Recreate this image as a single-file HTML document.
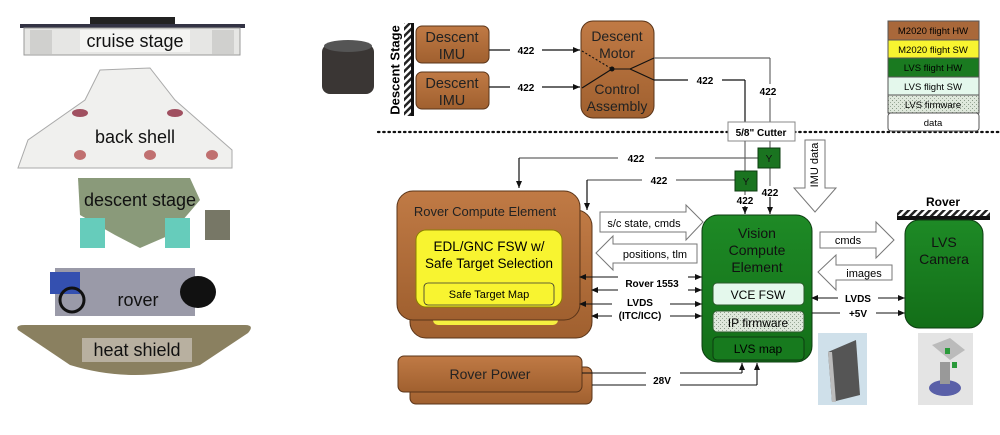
<!DOCTYPE html>
<html><head><meta charset="utf-8"><style>
html,body{margin:0;padding:0;background:#fff;}
svg{display:block;font-family:"Liberation Sans",sans-serif;}
</style></head><body>
<svg width="1000" height="435" viewBox="0 0 1000 435" xmlns="http://www.w3.org/2000/svg">
<defs>
<linearGradient id="br" x1="0" y1="0" x2="0" y2="1"><stop offset="0" stop-color="#c07a45"/><stop offset="1" stop-color="#a0602f"/></linearGradient>
<linearGradient id="gr" x1="0" y1="0" x2="0" y2="1"><stop offset="0" stop-color="#1e8a26"/><stop offset="1" stop-color="#136e18"/></linearGradient>
<pattern id="hatch" width="5" height="5" patternUnits="userSpaceOnUse" patternTransform="rotate(45)"><rect width="5" height="5" fill="#fff"/><rect width="2.5" height="5" fill="#222"/></pattern>
<pattern id="speck" width="4" height="4" patternUnits="userSpaceOnUse"><rect width="4" height="4" fill="#dfe8dc"/><rect x="0" y="0" width="1" height="1" fill="#8a9a88"/><rect x="2" y="2" width="1" height="1" fill="#9aaa98"/></pattern>
<marker id="ar" markerWidth="8" markerHeight="8" refX="7" refY="4" orient="auto" markerUnits="userSpaceOnUse"><path d="M0,1 L7,4 L0,7z" fill="#111"/></marker>
<marker id="al" markerWidth="8" markerHeight="8" refX="1" refY="4" orient="auto" markerUnits="userSpaceOnUse"><path d="M7,1 L0,4 L7,7z" fill="#111"/></marker>
</defs>

<!-- left spacecraft stack -->
<g>
<rect x="20" y="24" width="225" height="4" fill="#334"/>
<rect x="90" y="17" width="85" height="7" fill="#222"/>
<rect x="24" y="28" width="216" height="27" fill="#e6e6e4" stroke="#999"/>
<rect x="30" y="30" width="22" height="24" fill="#d0d0ce"/><rect x="212" y="30" width="22" height="24" fill="#d0d0ce"/>
<rect x="80" y="30" width="110" height="22" fill="#f4f4f2"/>
<text x="135" y="47" font-size="18" text-anchor="middle" fill="#111">cruise stage</text>
<path d="M100,70 L150,68 L175,100 L232,150 L232,168 L18,168 L28,140 L85,100 Z" fill="#f0f0ee" stroke="#aaa"/>
<ellipse cx="80" cy="113" rx="8" ry="4" fill="#a05060"/><ellipse cx="175" cy="113" rx="8" ry="4" fill="#a05060"/>
<ellipse cx="80" cy="155" rx="6" ry="5" fill="#c07070"/><ellipse cx="150" cy="155" rx="6" ry="5" fill="#c07070"/><ellipse cx="212" cy="155" rx="6" ry="5" fill="#c07070"/>
<text x="135" y="143" font-size="18" text-anchor="middle" fill="#111">back shell</text>
<path d="M78,178 L190,178 L200,200 L170,235 L140,248 L115,235 L80,215 Z" fill="#8a9a7a"/>
<rect x="80" y="218" width="25" height="30" fill="#6cb"/><rect x="165" y="218" width="25" height="30" fill="#6cb"/>
<rect x="205" y="210" width="25" height="30" fill="#776"/>
<text x="140" y="206" font-size="18" text-anchor="middle" fill="#111">descent stage</text>
<rect x="55" y="268" width="140" height="48" fill="#9a9aa8"/>
<rect x="50" y="272" width="30" height="22" fill="#3450b0"/>
<ellipse cx="198" cy="292" rx="18" ry="16" fill="#111"/>
<circle cx="72" cy="300" r="12" fill="none" stroke="#111" stroke-width="3"/>
<text x="138" y="306" font-size="18" text-anchor="middle" fill="#111">rover</text>
<path d="M18,330 Q15,325 25,325 L245,325 Q255,325 248,333 L200,365 Q135,385 70,365 Z" fill="#8a8060"/>
<rect x="82" y="338" width="110" height="24" fill="#b8b0a0"/>
<text x="137" y="356" font-size="18" text-anchor="middle" fill="#111">heat shield</text>
</g>

<!-- descent IMU photo -->
<rect x="322" y="44" width="52" height="50" rx="8" fill="#3a3634"/>
<ellipse cx="348" cy="46" rx="24" ry="6" fill="#555"/>

<!-- descent stage hatch -->
<rect x="404" y="23" width="7" height="93" fill="url(#hatch)"/>
<rect x="411" y="23" width="3" height="93" fill="#111"/>
<text transform="translate(396,70) rotate(-90)" font-size="13" font-weight="bold" text-anchor="middle" dominant-baseline="middle">Descent Stage</text>

<rect x="416" y="26" width="73" height="37" rx="6" fill="url(#br)" stroke="#5a3418"/>
<text x="452" y="42" font-size="14.5" text-anchor="middle" fill="#222">Descent</text><text x="452" y="59" font-size="14.5" text-anchor="middle" fill="#222">IMU</text>
<rect x="416" y="72" width="73" height="37" rx="6" fill="url(#br)" stroke="#5a3418"/>
<text x="452" y="88" font-size="14.5" text-anchor="middle" fill="#222">Descent</text><text x="452" y="105" font-size="14.5" text-anchor="middle" fill="#222">IMU</text>

<g stroke="#111" stroke-width="1.2" fill="none">
<line x1="489" y1="50" x2="510" y2="50"/><line x1="542" y1="50" x2="580" y2="50" marker-end="url(#ar)"/>
<line x1="489" y1="87" x2="510" y2="87"/><line x1="542" y1="87" x2="580" y2="87" marker-end="url(#ar)"/>
</g>
<text x="526" y="54" font-size="10" font-weight="bold" text-anchor="middle">422</text>
<text x="526" y="91" font-size="10" font-weight="bold" text-anchor="middle">422</text>

<rect x="581" y="21" width="73" height="97" rx="12" fill="url(#br)" stroke="#5a3418"/>
<text x="617" y="41" font-size="14" text-anchor="middle" fill="#222">Descent</text>
<text x="617" y="58" font-size="14" text-anchor="middle" fill="#222">Motor</text>
<text x="617" y="94" font-size="14" text-anchor="middle" fill="#222">Control</text>
<text x="617" y="111" font-size="14" text-anchor="middle" fill="#222">Assembly</text>
<g stroke="#111" stroke-width="1.1" fill="none">
<line x1="582" y1="51" x2="612" y2="69" stroke-dasharray="2,2"/>
<line x1="582" y1="88" x2="612" y2="69"/>
<line x1="612" y1="69" x2="630" y2="69"/>
<line x1="630" y1="69" x2="654" y2="58"/><line x1="630" y1="69" x2="654" y2="80"/>
</g>
<circle cx="612" cy="69" r="2.5" fill="#111"/>
<g stroke="#666" stroke-width="1.2" fill="none">
<line x1="654" y1="58" x2="770" y2="58"/><line x1="770" y1="58" x2="770" y2="84"/><line x1="770" y1="98" x2="770" y2="122"/>
</g>
<g stroke="#111" stroke-width="1.2" fill="none">
<line x1="654" y1="80" x2="688" y2="80"/><line x1="722" y1="80" x2="745" y2="80"/><line x1="745" y1="80" x2="745" y2="122"/>
</g>
<text x="705" y="84" font-size="10" font-weight="bold" text-anchor="middle">422</text>
<text x="768" y="95" font-size="10" font-weight="bold" text-anchor="middle">422</text>

<line x1="378" y1="132" x2="1000" y2="132" stroke="#111" stroke-width="2.2" stroke-dasharray="1.5,3.7" stroke-linecap="round"/>

<rect x="728" y="122" width="67" height="19" fill="#fff" stroke="#888"/>
<text x="761" y="136" font-size="10" font-weight="bold" text-anchor="middle">5/8" Cutter</text>

<path d="M805,140 L825,140 L825,188 L836,188 L815,212 L794,188 L805,188 Z" fill="#fff" stroke="#777"/>
<text transform="translate(815,165) rotate(-90)" font-size="11" text-anchor="middle" dominant-baseline="middle">IMU data</text>

<g stroke="#666" stroke-width="1.2" fill="none">
<line x1="770" y1="141" x2="770" y2="148"/><line x1="745" y1="141" x2="745" y2="171"/>
<line x1="758" y1="158" x2="655" y2="158"/><line x1="618" y1="158" x2="519" y2="158"/><line x1="519" y1="158" x2="519" y2="188" stroke="#111" marker-end="url(#ar)"/>
<line x1="735" y1="180" x2="676" y2="180"/><line x1="642" y1="180" x2="587" y2="180"/><line x1="587" y1="180" x2="587" y2="210" stroke="#111" marker-end="url(#ar)"/>
<line x1="770" y1="167" x2="770" y2="186"/><line x1="770" y1="197" x2="770" y2="214" stroke="#111" marker-end="url(#ar)"/>
<line x1="745" y1="190" x2="745" y2="195"/><line x1="745" y1="206" x2="745" y2="214" stroke="#111" marker-end="url(#ar)"/>
</g>
<text x="636" y="162" font-size="10" font-weight="bold" text-anchor="middle">422</text>
<text x="659" y="184" font-size="10" font-weight="bold" text-anchor="middle">422</text>
<text x="770" y="196" font-size="10" font-weight="bold" text-anchor="middle">422</text>
<text x="745" y="204" font-size="10" font-weight="bold" text-anchor="middle">422</text>
<rect x="758" y="148" width="22" height="20" fill="#1a7420" stroke="#0c3c10"/><text x="769" y="162" font-size="10" text-anchor="middle" fill="#111">Y</text>
<rect x="735" y="171" width="22" height="20" fill="#1a7420" stroke="#0c3c10"/><text x="746" y="185" font-size="10" text-anchor="middle" fill="#111">Y</text>

<rect x="410" y="210" width="182" height="128" rx="16" fill="url(#br)" stroke="#5a3418"/>
<rect x="433" y="300" width="125" height="25" rx="5" fill="#f5f040"/>
<rect x="397" y="191" width="183" height="129" rx="16" fill="url(#br)" stroke="#5a3418"/>
<text x="485" y="216" font-size="13" text-anchor="middle" fill="#222">Rover Compute Element</text>
<rect x="416" y="230" width="146" height="77" rx="10" fill="#f8f430" stroke="#8a8000"/>
<text x="489" y="251" font-size="13.5" text-anchor="middle">EDL/GNC FSW w/</text>
<text x="489" y="268" font-size="13.5" text-anchor="middle">Safe Target Selection</text>
<rect x="424" y="283" width="130" height="22" rx="4" fill="#f8f430" stroke="#333" stroke-width="0.8"/>
<text x="489" y="298" font-size="11" text-anchor="middle">Safe Target Map</text>

<path d="M600,212 L686,212 L686,205 L703,222 L686,240 L686,232 L600,232 Z" fill="#fff" stroke="#777"/>
<text x="644" y="227" font-size="11" text-anchor="middle">s/c state, cmds</text>
<path d="M697,244 L613,244 L613,236 L596,253 L613,270 L613,263 L697,263 Z" fill="#fff" stroke="#777"/>
<text x="655" y="258" font-size="11" text-anchor="middle">positions, tlm</text>

<g stroke="#111" stroke-width="1.1" fill="none">
<line x1="580" y1="277" x2="618" y2="277" marker-start="url(#al)"/><line x1="688" y1="277" x2="702" y2="277" marker-end="url(#ar)"/>
<line x1="592" y1="290" x2="618" y2="290" marker-start="url(#al)"/><line x1="688" y1="290" x2="702" y2="290" marker-end="url(#ar)"/>
<line x1="580" y1="304" x2="612" y2="304" marker-start="url(#al)"/><line x1="670" y1="304" x2="702" y2="304" marker-end="url(#ar)"/>
<line x1="592" y1="316" x2="612" y2="316" marker-start="url(#al)"/><line x1="670" y1="316" x2="702" y2="316" marker-end="url(#ar)"/>
</g>
<text x="652" y="287" font-size="10" font-weight="bold" text-anchor="middle">Rover 1553</text>
<text x="640" y="306" font-size="10" font-weight="bold" text-anchor="middle">LVDS</text>
<text x="640" y="319" font-size="10" font-weight="bold" text-anchor="middle">(ITC/ICC)</text>

<rect x="702" y="215" width="110" height="147" rx="16" fill="url(#gr)" stroke="#0c3c10"/>
<text x="757" y="238" font-size="14" text-anchor="middle" fill="#111">Vision</text>
<text x="757" y="255" font-size="14" text-anchor="middle" fill="#111">Compute</text>
<text x="757" y="272" font-size="14" text-anchor="middle" fill="#111">Element</text>
<rect x="713" y="283" width="91" height="22" rx="4" fill="#e4f8ec" stroke="#2a5a2a"/>
<text x="758" y="299" font-size="12" text-anchor="middle">VCE FSW</text>
<rect x="713" y="311" width="91" height="21" rx="4" fill="url(#speck)" stroke="#2a5a2a"/>
<text x="758" y="327" font-size="12" text-anchor="middle">IP firmware</text>
<rect x="713" y="337" width="91" height="23" rx="4" fill="#177a1e" stroke="#0c3c10"/>
<text x="758" y="353" font-size="12" text-anchor="middle">LVS map</text>

<rect x="410" y="367" width="182" height="37" rx="6" fill="url(#br)" stroke="#5a3418"/>
<rect x="398" y="356" width="184" height="36" rx="6" fill="url(#br)" stroke="#5a3418"/>
<text x="490" y="379" font-size="14" text-anchor="middle" fill="#222">Rover Power</text>
<g stroke="#111" stroke-width="1.1" fill="none">
<line x1="582" y1="373" x2="646" y2="373"/><line x1="680" y1="373" x2="742" y2="373"/><line x1="742" y1="373" x2="742" y2="363" marker-end="url(#ar)"/>
<line x1="592" y1="385" x2="646" y2="385"/><line x1="680" y1="385" x2="757" y2="385"/><line x1="757" y1="385" x2="757" y2="363" marker-end="url(#ar)"/>
</g>
<text x="662" y="384" font-size="10" font-weight="bold" text-anchor="middle">28V</text>

<path d="M820,232 L876,232 L876,222 L894,240 L876,258 L876,248 L820,248 Z" fill="#fff" stroke="#777"/>
<text x="848" y="244" font-size="11" text-anchor="middle">cmds</text>
<path d="M892,265 L836,265 L836,255 L818,272 L836,290 L836,280 L892,280 Z" fill="#fff" stroke="#777"/>
<text x="864" y="277" font-size="11" text-anchor="middle">images</text>
<g stroke="#111" stroke-width="1.1" fill="none">
<line x1="812" y1="298" x2="838" y2="298" marker-start="url(#al)"/><line x1="878" y1="298" x2="905" y2="298" marker-end="url(#ar)"/>
<line x1="812" y1="313" x2="840" y2="313"/><line x1="876" y1="313" x2="905" y2="313" marker-end="url(#ar)"/>
</g>
<text x="858" y="302" font-size="10" font-weight="bold" text-anchor="middle">LVDS</text>
<text x="858" y="317" font-size="10" font-weight="bold" text-anchor="middle">+5V</text>

<text x="943" y="206" font-size="12" font-weight="bold" text-anchor="middle">Rover</text>
<rect x="897" y="210" width="93" height="6" fill="url(#hatch)"/>
<rect x="897" y="216" width="93" height="4" fill="#111"/>
<rect x="905" y="220" width="78" height="108" rx="14" fill="url(#gr)" stroke="#0c3c10"/>
<text x="944" y="247" font-size="14" text-anchor="middle" fill="#111">LVS</text>
<text x="944" y="264" font-size="14" text-anchor="middle" fill="#111">Camera</text>

<rect x="818" y="333" width="49" height="72" fill="#cfe0ea"/>
<path d="M828,352 L856,340 L860,395 L832,402 Z" fill="#555"/>
<path d="M828,352 L832,402 L836,402 L832,352 Z" fill="#bbb"/>
<rect x="918" y="333" width="55" height="72" fill="#e4e4e4"/>
<path d="M932,345 L950,338 L965,350 L950,360 Z" fill="#bbb"/>
<ellipse cx="945" cy="388" rx="16" ry="8" fill="#5a60a8"/>
<rect x="940" y="362" width="10" height="22" fill="#999"/>
<rect x="945" y="348" width="5" height="6" fill="#2a9a3a"/><rect x="952" y="362" width="5" height="6" fill="#2a9a3a"/>

<rect x="888" y="21" width="91" height="19" fill="#a9683a" stroke="#555"/><text x="933" y="34" font-size="9.5" text-anchor="middle">M2020 flight HW</text>
<rect x="888" y="40" width="91" height="18" fill="#f8f430" stroke="#555"/><text x="933" y="53" font-size="9.5" text-anchor="middle">M2020 flight SW</text>
<rect x="888" y="58" width="91" height="19" fill="#1a7a20" stroke="#555"/><text x="933" y="71" font-size="9.5" text-anchor="middle">LVS flight HW</text>
<rect x="888" y="77" width="91" height="18" fill="#e4f8ec" stroke="#555"/><text x="933" y="90" font-size="9.5" text-anchor="middle">LVS flight SW</text>
<rect x="888" y="95" width="91" height="18" fill="url(#speck)" stroke="#555"/><text x="933" y="108" font-size="9.5" text-anchor="middle">LVS firmware</text>
<rect x="888" y="113" width="91" height="18" rx="3" fill="#fff" stroke="#555"/><text x="933" y="126" font-size="9.5" text-anchor="middle">data</text>
</svg>
</body></html>
